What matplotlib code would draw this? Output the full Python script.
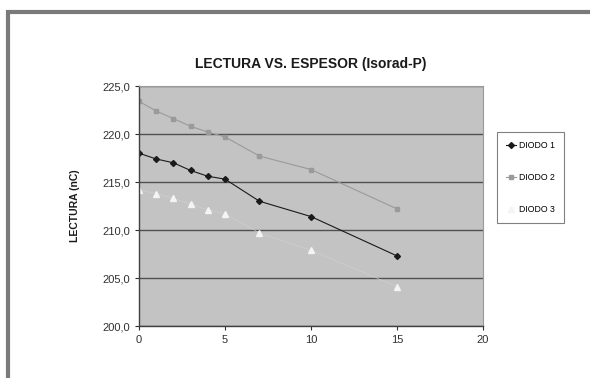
import matplotlib
matplotlib.use('Agg')
import matplotlib.pyplot as plt
from matplotlib.patches import Rectangle
from matplotlib.ticker import FuncFormatter, MultipleLocator

espesor = [0, 1, 2, 3, 4, 5, 7, 10, 15]
diodo_1 = [218.0, 217.4, 217.0, 216.2, 215.6, 215.3, 213.0, 211.4, 207.3]
diodo_2 = [223.4, 222.4, 221.6, 220.8, 220.2, 219.7, 217.7, 216.3, 212.2]
diodo_3 = [214.2, 213.8, 213.3, 212.7, 212.1, 211.7, 209.7, 207.9, 204.1]

plt.rcParams['font.family'] = ['Liberation Sans', 'DejaVu Sans']

fig = plt.figure(figsize=(5.9, 3.78), dpi=100)
fig.patch.set_facecolor('white')

# outer frame (only top and left visible in the screenshot)
fig.patches.append(Rectangle((8 / 590, -0.1), 1.2, (1 - 11.5 / 378) + 0.1,
                             transform=fig.transFigure, fill=False,
                             edgecolor='#7a7a7a', linewidth=3))

ax = fig.add_axes([139 / 590, 1 - 326 / 378, 344 / 590, 240 / 378])
ax.set_facecolor('#c3c3c3')

ax.plot(espesor, diodo_1, color='#1a1a1a', linewidth=0.8, marker='D',
        markersize=3, label='DIODO 1')
ax.plot(espesor, diodo_2, color='#9a9a9a', linewidth=0.8, marker='s',
        markersize=3.5, label='DIODO 2')
ax.plot(espesor, diodo_3, color='#d2d2d2', linewidth=0.4, marker='^',
        markersize=4, markerfacecolor='#f4f4f4', markeredgecolor='#f4f4f4',
        label='DIODO 3')

ax.set_xlim(0, 20)
ax.set_ylim(200, 225)
ax.xaxis.set_major_locator(MultipleLocator(5))
ax.yaxis.set_major_locator(MultipleLocator(5))
ax.yaxis.set_major_formatter(FuncFormatter(lambda v, p: f'{v:.1f}'.replace('.', ',')))
ax.grid(axis='y', color='#505050', linewidth=1.0)
ax.set_axisbelow(True)

for side in ['top', 'right']:
    ax.spines[side].set_color('#9a9a9a')
    ax.spines[side].set_linewidth(0.8)
for side in ['left', 'bottom']:
    ax.spines[side].set_color('#404040')
    ax.spines[side].set_linewidth(1.0)

ax.tick_params(axis='both', labelsize=8, colors='#303030', length=3, width=0.8)

ax.set_title('LECTURA VS. ESPESOR (Isorad-P)', fontsize=10, fontweight='bold',
             color='#1a1a1a', pad=13)
ax.set_ylabel('LECTURA (nC)', fontsize=7.5, fontweight='bold', color='#1a1a1a',
              labelpad=16)

lgd = ax.legend(loc='upper left', bbox_to_anchor=(1.04, 0.81), fontsize=6.3,
                frameon=True, fancybox=False, edgecolor='#606060',
                handlelength=1.1, handletextpad=0.3, labelspacing=2.6,
                borderpad=1.1, borderaxespad=0)
lgd.get_frame().set_linewidth(0.8)
lgd.legend_handles[2].set_color('white')

fig.savefig('out.png', dpi=100)
